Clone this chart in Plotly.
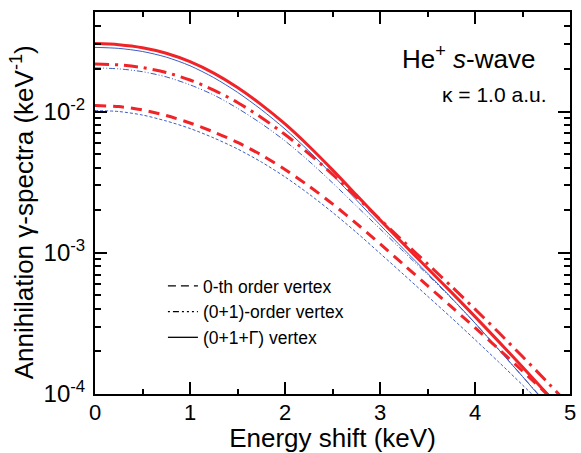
import plotly.graph_objects as go

# Energy shift grid (keV)
energy = [0.0, 0.25, 0.5, 0.75, 1.0, 1.25, 1.5, 1.75, 2.0, 2.25, 2.5,
          2.75, 3.0, 3.25, 3.5, 3.75, 4.0, 4.25, 4.5, 4.75, 5.0]

# log10 of the spectra (keV^-1)
red_full = [-1.519, -1.527, -1.548, -1.587, -1.647, -1.728, -1.830, -1.951, -2.088, -2.244, -2.413,
            -2.590, -2.767, -2.940, -3.110, -3.279, -3.452, -3.629, -3.809, -3.993, -4.180]
blue_full = [-1.546, -1.553, -1.575, -1.615, -1.676, -1.760, -1.864, -1.986, -2.124, -2.279, -2.449,
             -2.625, -2.802, -2.975, -3.145, -3.318, -3.498, -3.686, -3.876, -4.071, -4.265]
red_first = [-1.663, -1.670, -1.689, -1.724, -1.777, -1.848, -1.936, -2.042, -2.163, -2.297, -2.445,
             -2.604, -2.763, -2.922, -3.078, -3.237, -3.399, -3.565, -3.735, -3.908, -4.085]
blue_first = [-1.691, -1.698, -1.718, -1.755, -1.811, -1.883, -1.977, -2.085, -2.208, -2.350, -2.505,
              -2.668, -2.830, -2.993, -3.155, -3.322, -3.498, -3.686, -3.876, -4.064, -4.258]
red_zero = [-1.958, -1.965, -1.989, -2.028, -2.081, -2.145, -2.219, -2.307, -2.410, -2.527, -2.654,
            -2.792, -2.936, -3.085, -3.233, -3.382, -3.530, -3.682, -3.837, -3.996, -4.159]
blue_zero = [-1.993, -2.000, -2.025, -2.067, -2.120, -2.187, -2.265, -2.357, -2.463, -2.583, -2.714,
             -2.855, -3.004, -3.155, -3.307, -3.459, -3.615, -3.774, -3.936, -4.102, -4.272]

y_ticks = [1e-4, 1e-3, 1e-2]
y_tick_text = ["10<sup>-4</sup>", "10<sup>-3</sup>", "10<sup>-2</sup>"]
x_ticks = [0, 1, 2, 3, 4, 5]

RED = "#f02328"
BLUE = "#3b5cc4"
FONT = "Liberation Sans, Arial, Helvetica, sans-serif"

def lin(v):
    return [10 ** a for a in v]

fig = go.Figure()
series = [
    (blue_zero, BLUE, 1.0, "3px,2px"),
    (blue_first, BLUE, 1.0, "6px,2px,1px,2px,1px,2px"),
    (blue_full, BLUE, 1.0, "solid"),
    (red_zero, RED, 3.0, "11px,7px"),
    (red_first, RED, 3.0, "14px,6px,3px,6px"),
    (red_full, RED, 3.0, "solid"),
]
for vals, col, w, dash in series:
    fig.add_trace(go.Scatter(x=energy, y=lin(vals), mode="lines",
                             line=dict(color=col, width=w, dash=dash, shape="spline", smoothing=0.8),
                             showlegend=False, hoverinfo="skip"))

legend_items = [("0-th order vertex", "8px,5px"),
                ("(0+1)-order vertex", "2px,3px,6px,3px,2px,3px,2px,3px"),
                ("(0+1+\u0393) vertex", "solid")]
for name, dash in legend_items:
    fig.add_trace(go.Scatter(x=[None], y=[None], mode="lines", name=name,
                             line=dict(color="black", width=1.3, dash=dash)))

fig.update_layout(
    width=581, height=453,
    margin=dict(l=95, r=5, t=12, b=59),
    paper_bgcolor="white", plot_bgcolor="white",
    font=dict(family=FONT, color="black"),
    showlegend=True,
    legend=dict(x=0.143, y=0.33, xanchor="left", yanchor="top",
                bgcolor="rgba(0,0,0,0)", font=dict(size=17.5, family=FONT),
                tracegroupgap=0, itemwidth=30),
    annotations=[
        dict(text="He<sup>+</sup> <i>s</i>-wave", x=0.93, y=0.882, xref="paper", yref="paper",
             xanchor="right", yanchor="middle", showarrow=False, font=dict(size=26, family=FONT)),
        dict(text="\u03ba = 1.0 a.u.", x=0.955, y=0.785, xref="paper", yref="paper",
             xanchor="right", yanchor="middle", showarrow=False, font=dict(size=21, family=FONT)),
        dict(text="Annihilation \u03b3-spectra (keV<sup>-1</sup>)", x=-0.152, y=0.475,
             xref="paper", yref="paper", xanchor="center", yanchor="middle", textangle=-90,
             showarrow=False, font=dict(size=26, family=FONT)),
    ],
)

fig.update_xaxes(
    range=[0, 5], tickvals=x_ticks, ticks="inside", ticklen=12, tickwidth=1.5,
    tickcolor="black", showline=True, linecolor="black", linewidth=2, mirror="ticks",
    showgrid=False, zeroline=False, tickfont=dict(size=22, family=FONT), ticklabelstandoff=-2,
    minor=dict(dtick=0.5, ticks="inside", ticklen=5, tickwidth=1.5, tickcolor="black", showgrid=False),
    title=dict(text="Energy shift (keV)", font=dict(size=26, family=FONT), standoff=4),
)
fig.update_yaxes(
    type="log", range=[-4, -1.2954], tickvals=y_ticks, ticktext=y_tick_text,
    ticks="inside", ticklen=12, tickwidth=1.5, tickcolor="black",
    showline=True, linecolor="black", linewidth=2, mirror="ticks",
    showgrid=False, zeroline=False, tickfont=dict(size=24, family=FONT), ticklabelstandoff=3,
    minor=dict(dtick="D1", ticks="inside", ticklen=6, tickwidth=1.5, tickcolor="black", showgrid=False),
)

fig.write_html("out.html")
